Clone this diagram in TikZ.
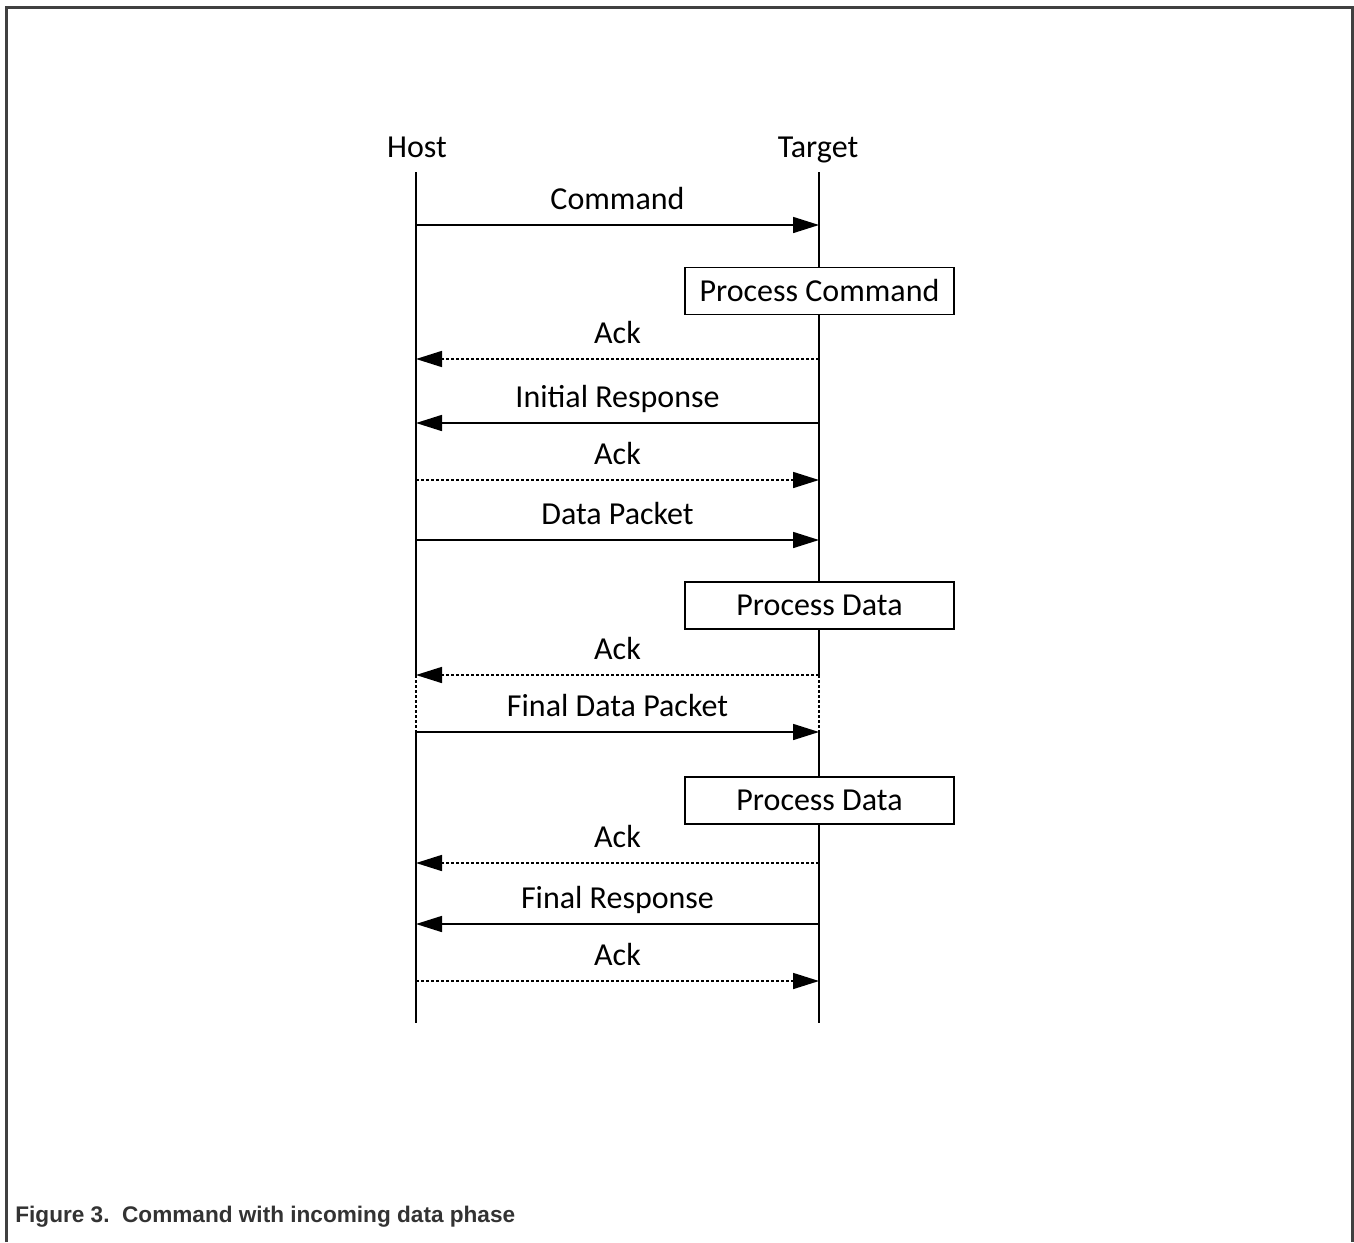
\documentclass[tikz,border=0pt]{standalone}
\usepackage{fontspec}
\setmainfont{Carlito}
\newfontfamily\captionfont{Liberation Sans}
\usetikzlibrary{arrows.meta, positioning}

\begin{document}
\begin{tikzpicture}[
    x=0.5pt, y=-0.5pt,
    party/.style={anchor=base, font=\fontsize{16}{19}\selectfont},
    lifeline/.style={line width=1pt},
    gapline/.style={line width=0.6pt, dash pattern=on 1.5pt off 1pt},
    procbox/.style={rectangle, draw, fill=white, line width=0.8pt, minimum width=134.5pt, minimum height=23.5pt, inner sep=0pt, font=\fontsize{16}{19}\selectfont},
    msg/.style={-{Triangle[length=13pt,width=8pt]}, line width=0.8pt},
    ackmsg/.style={msg, dash pattern=on 1.5pt off 1pt},
    msgtext/.style={midway, anchor=base, yshift=8pt, font=\fontsize{16}{19}\selectfont}
]

\useasboundingbox (0,0) rectangle (1354,1242);
\draw[line width=1.5pt, black!75] (6,1242) -- (6,7) -- (1352,7) -- (1352,1242);

\node[party] (host) at (417,157) {Host};
\node[party] (target) at (818,157) {Target};

\foreach \row/\y in {top/172, cmd/225, ackA/359, iresp/423, ackB/480, data/540, ackC/675, fdata/732, ackD/863, fresp/924, ackE/981, end/1023} {
    \coordinate (h\row) at (416,\y);
    \coordinate (t\row) at (819,\y);
}

\draw[lifeline] (htop) -- (hackC);
\draw[gapline] (hackC) -- (hfdata);
\draw[lifeline] (hfdata) -- (hend);
\draw[lifeline] (ttop) -- (tackC);
\draw[gapline] (tackC) -- (tfdata);
\draw[lifeline] (tfdata) -- (tend);

\node[procbox] (pcmd) at (819.5,291) {Process Command};
\node[procbox] (pdata) at (819.5,605.5) {Process Data};
\node[procbox] (pfdata) at (819.5,800.5) {Process Data};

\draw[msg] (hcmd) -- node[msgtext] {Command} (tcmd);
\draw[ackmsg] (tackA) -- node[msgtext] {Ack} (hackA);
\draw[msg] (tiresp) -- node[msgtext] {Initial Response} (hiresp);
\draw[ackmsg] (hackB) -- node[msgtext] {Ack} (tackB);
\draw[msg] (hdata) -- node[msgtext] {Data Packet} (tdata);
\draw[ackmsg] (tackC) -- node[msgtext] {Ack} (hackC);
\draw[msg] (hfdata) -- node[msgtext] {Final Data Packet} (tfdata);
\draw[ackmsg] (tackD) -- node[msgtext] {Ack} (hackD);
\draw[msg] (tfresp) -- node[msgtext] {Final Response} (hfresp);
\draw[ackmsg] (hackE) -- node[msgtext] {Ack} (tackE);

\node[anchor=west, text=black!80, font=\captionfont\bfseries\fontsize{11.3}{13}\selectfont, inner sep=0pt] (caption) at (15,1217) {Figure 3.\ \ Command with incoming data phase};

\end{tikzpicture}
\end{document}
